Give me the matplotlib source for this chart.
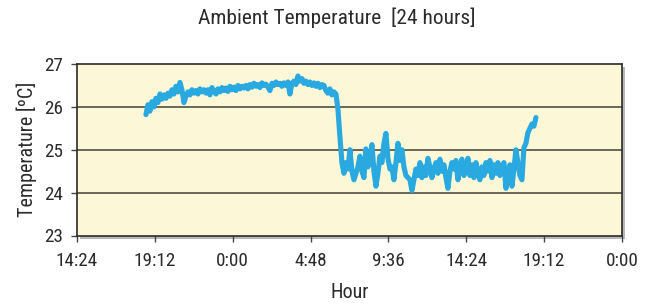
import numpy as np
import matplotlib
matplotlib.use("Agg")
import matplotlib.pyplot as plt
from matplotlib import font_manager

# ---- data ----
start_hour = 18.65          # first sample, hours after midnight of day 1
step_hours = 0.1233         # sampling interval (hours)
temps = [
    25.82, 26.05, 25.90, 26.12, 26.00, 26.20, 26.10, 26.30, 26.18, 26.28,
    26.20, 26.32, 26.25, 26.40, 26.30, 26.48, 26.35, 26.57, 26.40, 26.10,
    26.25, 26.35, 26.28, 26.40, 26.32, 26.38, 26.30, 26.42, 26.35, 26.40,
    26.32, 26.40, 26.28, 26.45, 26.36, 26.30, 26.42, 26.35, 26.45, 26.38,
    26.44, 26.36, 26.48, 26.40, 26.46, 26.38, 26.50, 26.42, 26.48, 26.44,
    26.50, 26.42, 26.52, 26.46, 26.55, 26.48, 26.52, 26.45, 26.56, 26.50,
    26.53, 26.46, 26.38, 26.55, 26.50, 26.58, 26.52, 26.55, 26.48, 26.56,
    26.50, 26.58, 26.30, 26.55, 26.60, 26.52, 26.72, 26.60, 26.66, 26.55,
    26.60, 26.52, 26.58, 26.50, 26.56, 26.48, 26.55, 26.45, 26.52, 26.50,
    26.38, 26.32, 26.42, 26.28, 26.35, 26.30, 25.95, 25.30, 24.70, 24.45,
    24.70, 24.55, 25.00, 24.50, 24.30, 24.45, 24.60, 24.85, 24.50, 24.35,
    25.02, 24.60, 24.75, 25.12, 24.50, 24.15, 24.45, 24.85, 24.70, 25.15,
    25.38, 24.80, 24.55, 24.60, 24.30, 24.70, 25.15, 24.75, 25.00, 24.60,
    24.40, 24.35, 24.30, 24.05, 24.30, 24.55, 24.40, 24.70, 24.35, 24.60,
    24.40, 24.80, 24.60, 24.35, 24.55, 24.70, 24.45, 24.78, 24.50, 24.65,
    24.35, 24.10, 24.50, 24.70, 24.55, 24.75, 24.30, 24.60, 24.78, 24.40,
    24.50, 24.80, 24.40, 24.65, 24.35, 24.70, 24.45, 24.30, 24.60, 24.40,
    24.70, 24.50, 24.75, 24.35, 24.65, 24.45, 24.70, 24.40, 24.58, 24.70,
    24.10, 24.50, 24.65, 24.15, 24.55, 25.00, 24.70, 24.40, 24.30, 25.05,
    25.15, 25.40, 25.50, 25.60, 25.55, 25.75,
]
hours = start_hour + step_hours * np.arange(len(temps))

x_ticks = [14.4, 19.2, 24.0, 28.8, 33.6, 38.4, 43.2, 48.0]
x_tick_labels = ["14:24", "19:12", "0:00", "4:48", "9:36", "14:24", "19:12", "0:00"]
y_ticks = [23, 24, 25, 26, 27]

title = "Ambient Temperature  [24 hours]"
xlabel = "Hour"
ylabel = "Temperature [\u00baC]"

# ---- font: prefer a condensed sans if one is installed ----
entries = font_manager.fontManager.ttflist
names = {f.name for f in entries}
stretch = "normal"
family = ["Liberation Sans", "DejaVu Sans"]
for cand in ["Liberation Sans Narrow", "Roboto Condensed", "Open Sans Condensed",
             "Arial Narrow", "Noto Sans Condensed"]:
    if cand in names:
        family = [cand, "DejaVu Sans"]
        break
else:
    cond = [f for f in entries
            if str(f.stretch) in ("condensed", "semi-condensed", "extra-condensed", "500", "600", "700", "400", "300")
            and f.name in ("Roboto", "Open Sans", "Noto Sans", "DejaVu Sans", "Inter", "Lato")]
    if cond:
        family = [cond[0].name, "DejaVu Sans"]
        stretch = cond[0].stretch
plt.rcParams["font.family"] = family
plt.rcParams["font.stretch"] = stretch

text_color = "#2b2b2b"
fig = plt.figure(figsize=(6.56, 3.06), dpi=100)
fig.patch.set_facecolor("white")
L, B, W, H = 77 / 656, (306 - 235.5) / 306, 545 / 656, 171.5 / 306
# drop shadow (drawn first, behind the plot)
shadow = fig.add_axes([L + 3 / 656, B - 3 / 306, W, H])
shadow.set_facecolor("#b8b8b8")
shadow.set_xticks([]); shadow.set_yticks([])
for s in shadow.spines.values():
    s.set_visible(False)

ax = fig.add_axes([L, B, W, H])
ax.set_facecolor("#fcf8d7")

for y in y_ticks[1:-1]:
    ax.axhline(y, color="#5e5a50", lw=1.3, zorder=1)

ax.plot(hours, temps, color="#2aa9e0", lw=3.7, solid_joinstyle="round",
        solid_capstyle="round", zorder=3)

ax.set_xlim(x_ticks[0], x_ticks[-1])
ax.set_ylim(y_ticks[0], y_ticks[-1])
ax.set_xticks(x_ticks)
ax.set_xticklabels(x_tick_labels)
ax.set_yticks(y_ticks)

for s in ax.spines.values():
    s.set_color("#2a2a2a")
    s.set_linewidth(1.2)

ax.tick_params(axis="both", direction="out", length=4, width=1, color="#444444",
               labelsize=13.8, labelcolor=text_color)
ax.tick_params(axis="x", pad=8)
ax.tick_params(axis="y", pad=6)

fig.text(337 / 656, 1 - 18 / 306, title, fontsize=15.4, color=text_color,
         ha="center", va="center")
ax.set_xlabel(xlabel, fontsize=14.5, color=text_color, labelpad=9)
ax.set_ylabel(ylabel, fontsize=14.5, color=text_color, labelpad=5)

fig.savefig("out.png", dpi=100)
